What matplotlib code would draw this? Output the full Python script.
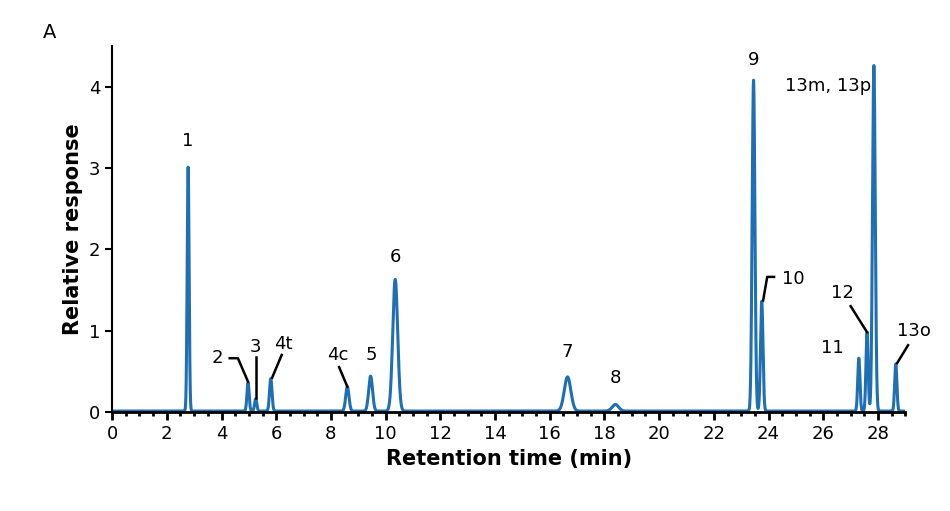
import numpy as np
import matplotlib.pyplot as plt
from matplotlib.ticker import MultipleLocator

# peak table
peak_rt = [2.78, 4.97, 5.25, 5.80, 8.60, 9.45, 10.35, 16.65, 18.40, 23.45, 23.75, 27.30, 27.60, 27.85, 28.65]
peak_height = [3.0, 0.35, 0.15, 0.40, 0.30, 0.43, 1.62, 0.42, 0.08, 4.07, 1.35, 0.65, 0.97, 4.25, 0.58]
peak_sigma = [0.035, 0.04, 0.04, 0.045, 0.06, 0.07, 0.09, 0.12, 0.12, 0.05, 0.045, 0.04, 0.04, 0.05, 0.04]

# label text and centre position, optional leader line
labels = ['1', '2', '3', '4t', '4c', '5', '6', '7', '8', '9', '10', '11', '12', '13m, 13p', '13o']
label_x = [2.78, 3.84, 5.25, 6.25, 8.26, 9.47, 10.35, 16.65, 18.4, 23.45, 24.9, 26.35, 26.7, 26.17, 29.3]
label_y = [3.33, 0.66, 0.8, 0.83, 0.7, 0.7, 1.9, 0.74, 0.42, 4.33, 1.63, 0.78, 1.46, 4.01, 0.99]
leaders = {
    '2': [(4.3, 4.6, 4.97), (0.66, 0.66, 0.37)],
    '3': [(5.25, 5.25), (0.68, 0.17)],
    '4t': [(6.2, 5.85), (0.7, 0.42)],
    '4c': [(8.3, 8.6), (0.55, 0.31)],
    '10': [(24.2, 23.95, 23.8), (1.66, 1.66, 1.37)],
    '12': [(27.0, 27.6), (1.3, 0.98)],
    '13o': [(29.1, 28.7), (0.82, 0.6)],
}

t = np.linspace(0, 29, 6000)
signal = np.full_like(t, 0.01)
for rt, h, s in zip(peak_rt, peak_height, peak_sigma):
    signal += h * np.exp(-0.5 * ((t - rt) / s) ** 2)

fig, ax = plt.subplots(figsize=(9.5, 5.11), dpi=100)
fig.subplots_adjust(left=0.118, right=0.953, bottom=0.194, top=0.91)
ax.plot(t, signal, color='#1f6fb4', lw=2.2)

for lab, lx, ly in zip(labels, label_x, label_y):
    ax.text(lx, ly, lab, ha='center', va='center', fontsize=13, clip_on=False)
    if lab in leaders:
        xs, ys = leaders[lab]
        ax.plot(xs, ys, color='black', lw=1.8, clip_on=False)

ax.set_xlim(0, 29)
ax.set_ylim(0, 4.5)
ax.xaxis.set_major_locator(MultipleLocator(2))
ax.xaxis.set_minor_locator(MultipleLocator(0.5))
ax.yaxis.set_major_locator(MultipleLocator(1))
ax.tick_params(axis='x', which='major', length=6, width=2, labelsize=13)
ax.tick_params(axis='x', which='minor', length=3, width=2)
ax.tick_params(axis='y', which='major', length=5, width=1.5, labelsize=13)
for side in ['top', 'right']:
    ax.spines[side].set_visible(False)
ax.spines['bottom'].set_linewidth(2)
ax.spines['left'].set_linewidth(1.5)
ax.set_xlabel('Retention time (min)', fontsize=15, fontweight='bold')
ax.set_ylabel('Relative response', fontsize=15, fontweight='bold')
fig.text(0.045, 0.925, 'A', fontsize=14)

fig.savefig('out.png')
